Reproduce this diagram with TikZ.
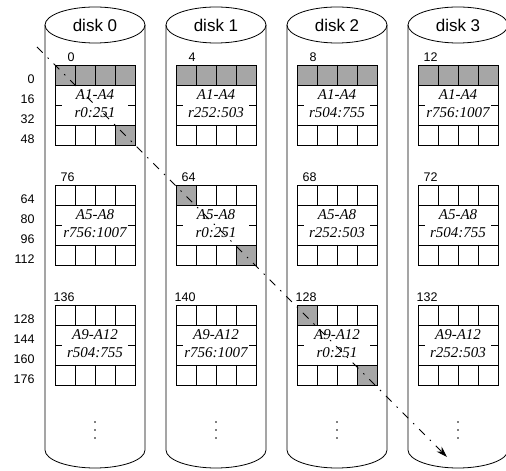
\documentclass[tikz,border=0pt]{standalone}
\usepackage{fontspec}
\setmainfont{Liberation Sans}
\newfontfamily\blockfont{Liberation Serif}
\usetikzlibrary{arrows.meta}

\tikzset{
  disklabel/.style={font=\fontsize{17}{20}\selectfont},
  offset/.style={font=\fontsize{12.5}{14}\selectfont, inner sep=0pt},
  blocktext/.style={font=\blockfont\itshape\fontsize{15}{18}\selectfont, align=center, inner sep=0pt},
  cell/.style={fill=black!35},
  travel/.style={line width=0.9pt, dash pattern=on 8pt off 7pt on 1.5pt off 7pt,
    -{Stealth[length=11pt,width=7pt]}},
}

\begin{document}
\begin{tikzpicture}[x=1pt, y=1pt, line width=0.8pt]
	\useasboundingbox (0,0) rectangle (506,471);
	% Disks
	\foreach \d/\cx in {0/95,1/216,2/337,3/458}{
		\draw (\cx-50,446) -- (\cx-50,21) arc (180:360:50 and 18) -- (\cx+50,446);
		\draw (\cx,446) ellipse (50 and 18);
		\node[disklabel] (disk\d) at (\cx,446) {disk \d};
		\foreach \yy in {49,41,33} \fill (\cx,\yy) circle (0.9);
	}
	% Parity cells
	\foreach \cx in {95,216,337,458} \fill[cell] (\cx-40,406) rectangle (\cx+40,386);
	\fill[cell] (115,346) rectangle (135,326);
	\fill[cell] (176,286) rectangle (196,266);
	\fill[cell] (236,226) rectangle (256,206);
	\fill[cell] (297,166) rectangle (317,146);
	\fill[cell] (357,106) rectangle (377,86);
	% Stripes
	\foreach \cx in {95,216,337,458}{
		\foreach \top in {406,286,166}{
			\draw (\cx-40,\top) rectangle (\cx+40,\top-80);
			\draw (\cx-40,\top-20) -- (\cx+40,\top-20);
			\draw (\cx-40,\top-60) -- (\cx+40,\top-60);
			\foreach \i in {-20,0,20}{
				\draw (\cx+\i,\top) -- (\cx+\i,\top-20);
				\draw (\cx+\i,\top-60) -- (\cx+\i,\top-80);
			}
			\draw (\cx-40,\top-40) -- ++(7,0);
			\draw (\cx+40,\top-40) -- ++(-7,0);
		}
	}
	% Offsets
	\foreach \cx/\a/\b/\c in {95/0/76/136,216/4/64/140,337/8/68/128,458/12/72/132}{
		\node[offset, anchor=base east] (off\a) at (\cx-20,409) {\a};
		\node[offset, anchor=base east] (off\b) at (\cx-20,289) {\b};
		\node[offset, anchor=base east] (off\c) at (\cx-20,169) {\c};
	}
	\foreach \n/\yy in {0/392,16/372,32/352,48/332,64/272,80/252,96/232,112/212,128/152,144/132,160/112,176/92}
		\node[offset, anchor=base east] (row\n) at (35,\yy-5) {\n};
	% Block contents
	\foreach \k/\cx/\ra/\rb/\rc in {0/95/{r0:251}/{r756:1007}/{r504:755},
		1/216/{r252:503}/{r0:251}/{r756:1007},
		2/337/{r504:755}/{r252:503}/{r0:251},
		3/458/{r756:1007}/{r504:755}/{r252:503}}{
		\node[blocktext] (a\k) at (\cx,367) {A1-A4\\\ra};
		\node[blocktext] (b\k) at (\cx,247) {A5-A8\\\rb};
		\node[blocktext] (c\k) at (\cx,127) {A9-A12\\\rc};
	}
	% Access order
	\coordinate (start) at (37,424);
	\coordinate (end) at (447,14);
	\draw[travel] (start) -- (end);
\end{tikzpicture}
\end{document}
